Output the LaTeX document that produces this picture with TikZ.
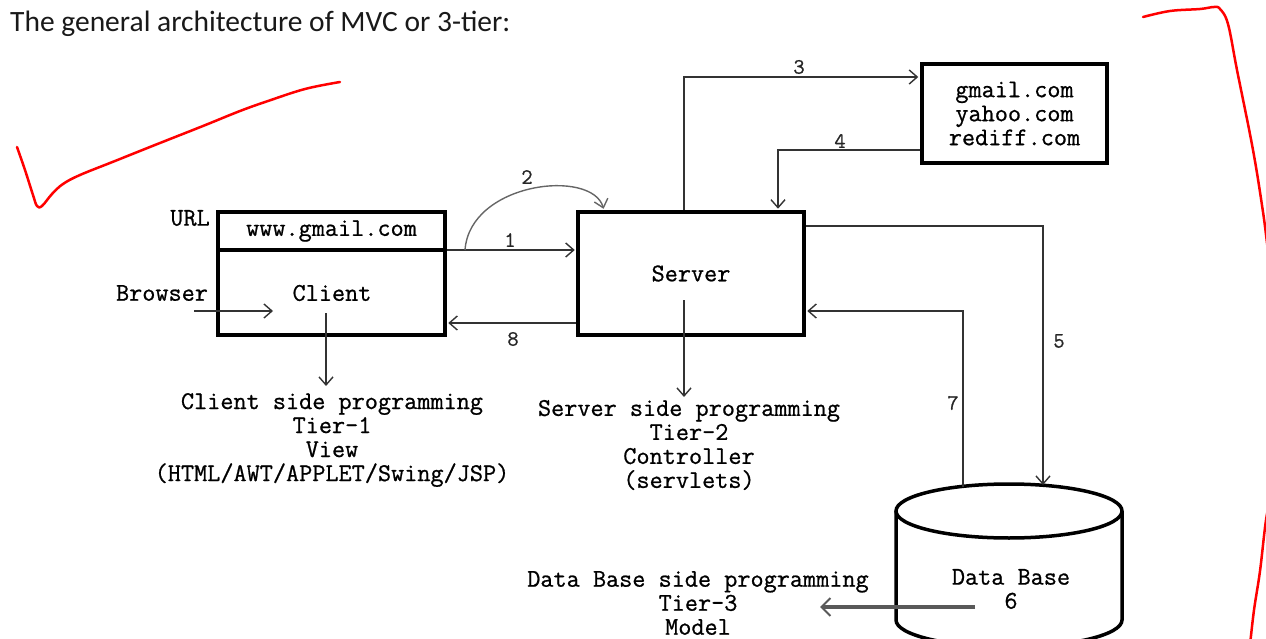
\documentclass[tikz,border=0pt]{standalone}
\usepackage{fontspec}
\setmainfont{Carlito}
\newfontfamily\monof[FakeBold=0.8]{Latin Modern Mono}
\usetikzlibrary{arrows.meta}
\begin{document}
\begin{tikzpicture}[x=1pt,y=-1pt,
  boxst/.style={draw=black,line width=3.5pt,rectangle,inner sep=0pt},
  mono/.style={font=\monof\fontsize{25.5}{24}\selectfont,inner sep=0pt,text=black},
  lbl/.style={font=\monof\fontsize{22}{24}\selectfont,inner sep=0pt,text=black!85},
  conn/.style={draw=black!80,line width=1.4pt,-{Straight Barb[length=8pt,width=14pt,line width=1.4pt]}},
  curvest/.style={draw=black!60,line width=1.4pt,-{Straight Barb[length=8pt,width=14pt,line width=1.4pt]}},
  modelst/.style={draw=black!65,line width=4pt,-{Straight Barb[length=9pt,width=18pt,line width=2pt]}},
  dbline/.style={draw=black,line width=3.5pt},
  redst/.style={draw=red,line width=2.5pt,line cap=round,line join=round},
]
\useasboundingbox (0,0) rectangle (1266,639);
\clip (0,0) rectangle (1266,639);

% title
\node[anchor=base west,font=\fontsize{29.5}{32}\selectfont,inner sep=0pt,text=black!90] (title) at (10,32) {The general architecture of MVC or 3-tier:};

% level coordinates
\coordinate (c1) at (0,250);
\coordinate (c8) at (0,323);

% client
\node[boxst,minimum width=227pt,minimum height=123pt] (client) at (331.5,273.5) {};
\draw[line width=3.5pt] (client.west |- c1) -- (client.east |- c1);
\node[mono] (urltxt) at (331.5,231) {www.gmail.com};
\node[mono] (clienttxt) at (332,293) {Client};
\node[mono] (urllbl) at (190,218) {URL};
\node[mono] (browser) at (162,293) {Browser};

% server
\node[boxst,mono,minimum width=226pt,minimum height=123pt] (server) at (691,273.5) {Server};

% sites
\node[boxst,mono,align=center,minimum width=185pt,minimum height=99pt] (sites) at (1014.5,113.5) {gmail.com\\yahoo.com\\rediff.com};

% tier texts
\node[mono,align=center] (tier1) at (332,440) {Client side programming\\Tier-1\\View\\(HTML/AWT/APPLET/Swing/JSP)};
\node[mono,align=center] (tier2) at (689,445) {Server side programming\\Tier-2\\Controller\\(servlets)};
\node[mono,align=center] (tier3) at (698,603) {Data Base side programming\\Tier-3\\Model};

% database cylinder
\draw[dbline] (1009,511) ellipse [x radius=113pt, y radius=27pt];
\draw[dbline] (896,511) -- (896,620) arc[start angle=180,end angle=360,x radius=113pt,y radius=27pt] -- (1122,511);
\node[mono,align=center] (dblbl) at (1011,589) {Data Base\\6};
\coordinate (db5) at (1043,485);
\coordinate (db7) at (963,487);

% connectors
\draw[conn,shorten >=1.5pt] (client.east |- c1) -- (server.west |- c1);
\node[lbl] (n1) at (510,240) {1};
\draw[conn,shorten >=1.5pt] (server.west |- c8) -- (client.east |- c8);
\node[lbl] (n8) at (513,339) {8};
\coordinate (c2s) at (465,250);
\draw[curvest,shorten >=1.5pt] (c2s) .. controls +(5,-68) and +(-12,-42) .. ([xshift=-87pt]server.north);
\node[lbl] (n2) at (527,177) {2};
\draw[conn,shorten >=2pt] ([xshift=-7pt]server.north) |- ([yshift=36.5pt]sites.west);
\node[lbl] (n3) at (799,67) {3};
\draw[conn,shorten >=1.5pt] ([yshift=-36.5pt]sites.west) -| ([xshift=87pt]server.north);
\node[lbl] (n4) at (840,141) {4};
\draw[conn] ([yshift=47.5pt]server.east) -| (db5);
\node[lbl] (n5) at (1059,341) {5};
\draw[conn,shorten >=1.5pt] (db7) |- ([yshift=-37.5pt]server.east);
\node[lbl] (n7) at (953,403) {7};

\coordinate (bA) at (194,311);
\coordinate (bB) at (273,311);
\draw[conn] (bA) -- (bB);
\draw[conn] (326,313) -- (326,386);
\draw[conn] (684,300) -- (684,397);

\coordinate (mA) at (975,607);
\coordinate (mB) at (820,607);
\draw[modelst] (mA) -- (mB);

% red annotations
\draw[redst] plot[smooth,tension=0.6] coordinates {(17,147) (25,170) (33,195) (37,206) (42,206) (52,194) (63,184) (80,175) (115,161) (160,143) (203,126) (240,111) (268,101) (305,89) (340,82)};
\draw[redst] plot[smooth,tension=0.6] coordinates {(1143,17) (1170,11) (1200,9) (1214,7) (1220,9) (1228,24) (1237,70) (1253,150) (1263,212) (1268,250) (1272,270)};
\draw[redst] plot[smooth,tension=0.6] coordinates {(1272,490) (1266,520) (1260,571) (1254,610) (1250,645)};
\end{tikzpicture}
\end{document}
